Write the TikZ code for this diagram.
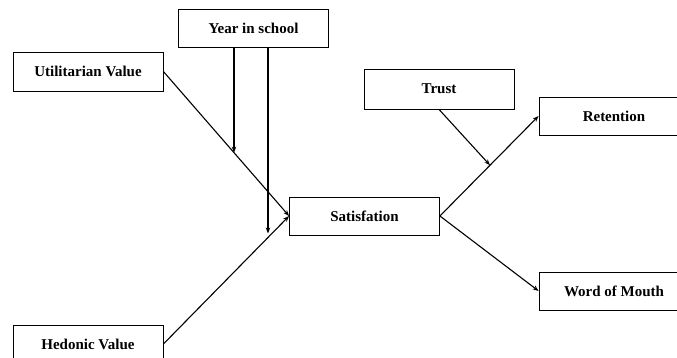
\documentclass[tikz,border=0pt]{standalone}
\usepackage{fontspec}
\setmainfont{Liberation Serif}
\usetikzlibrary{arrows.meta,calc}
\begin{document}
\begin{tikzpicture}[x=1pt,y=-1pt,
  box/.style={draw, line width=0.8pt, minimum width=150pt, minimum height=38pt, inner sep=0pt, font=\fontsize{15}{17}\selectfont\bfseries},
  conn/.style={line width=1.1pt, -{Stealth[length=6pt,width=4.5pt]}}]
\useasboundingbox (0,0) rectangle (677,358);
\clip (0,0) rectangle (677,358);
\node[box] (yis) at (253.5,28.5) {Year in school};
\node[box, minimum height=39pt] (uv) at (88,71.5) {Utilitarian Value};
\node[box] (hv) at (88,344) {Hedonic Value};
\node[box] (sat) at (364.5,216) {Satisfation};
\node[box, minimum height=40pt] (tr) at (439,89) {Trust};
\node[box] (ret) at (614,116) {Retention};
\node[box] (wom) at (614,291) {Word of Mouth};
\coordinate (m1) at (intersection of uv.east--sat.west and 234,0--234,400);
\coordinate (m2) at (intersection of hv.east--sat.west and 268,0--268,400);
\coordinate (m3) at (intersection of sat.east--ret.west and 490,0--490,400);
\coordinate (y1) at (yis.south -| m1);
\coordinate (y2) at (yis.south -| m2);
\draw[conn] (uv.east) -- (sat.west);
\draw[conn] (hv.east) -- (sat.west);
\draw[conn] (y1) -- (m1);
\draw[conn] (y2) -- ($(m2)+(0,-4)$);
\draw[conn] (tr.south) -- (m3);
\draw[conn] (sat.east) -- (ret.west);
\draw[conn] (sat.east) -- (wom.west);
\end{tikzpicture}
\end{document}
